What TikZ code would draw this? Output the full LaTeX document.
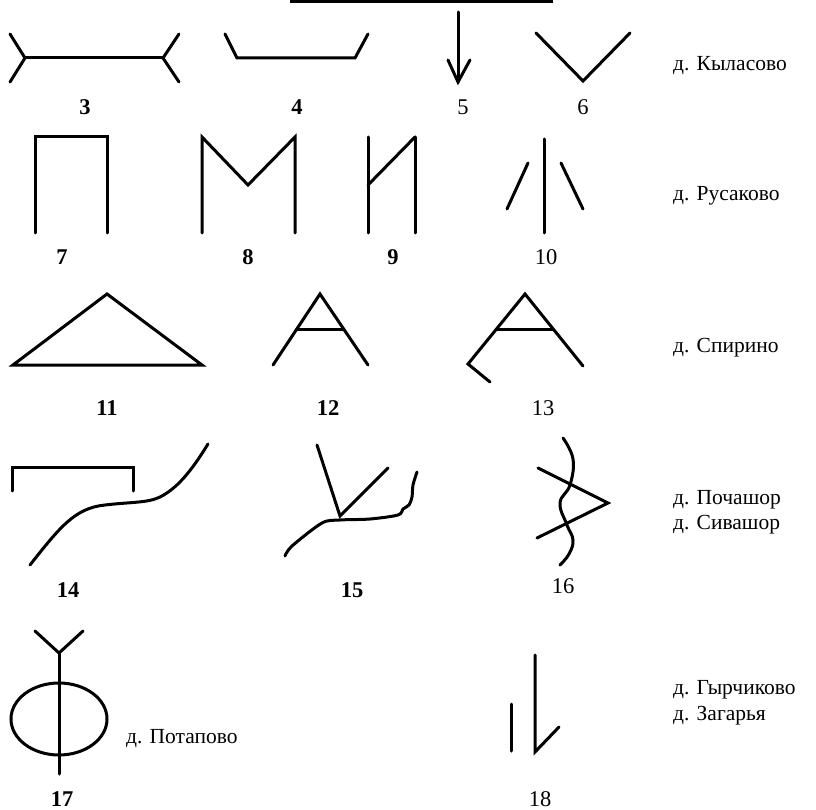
\documentclass[tikz,border=0pt]{standalone}
\usepackage{fontspec}
\setmainfont{Liberation Serif}
\begin{document}
\begin{tikzpicture}[x=1pt,y=-1pt,
  glyph/.style={line width=3pt,line cap=round,line join=miter},
  num/.style={anchor=base,font=\fontsize{22.5}{24}\selectfont\bfseries,inner sep=0pt},
  numr/.style={anchor=base,font=\fontsize{22.5}{24}\selectfont,inner sep=0pt},
  place/.style={anchor=base west,font=\fontsize{21.5}{24}\selectfont,inner sep=0pt}]
\useasboundingbox (0,0) rectangle (816,810);
% cut-off underlined heading at the top
\fill (290,0) rectangle (553,3.2);
% row 1
\draw[glyph] (10,34) -- (25,58) -- (10,82);
\draw[glyph] (25,58) -- (163,58);
\draw[glyph] (179,34) -- (163,58) -- (179,82);
\draw[glyph] (225,34) -- (237,58) -- (355,58) -- (368,34);
\draw[glyph] (458,12) -- (458,82);
\draw[glyph] (448,60) -- (458,82) -- (470,60);
\draw[glyph] (536,33) -- (583,81) -- (630,33);
\node[num] (n3) at (85,115) {3};
\node[num] (n4) at (297,115) {4};
\node[numr] (n5) at (463,115) {5};
\node[numr] (n6) at (583,115) {6};
\node[place] (t1) at (673,71) {д. Кыласово};
% row 2
\draw[glyph] (35,233) -- (35,137) -- (107,137) -- (107,233);
\draw[glyph] (202,233) -- (202,137) -- (248,185) -- (295,137) -- (295,233);
\draw[glyph] (368,137) -- (368,233);
\draw[glyph] (368,185) -- (415,137);
\draw[glyph] (415,137) -- (415,233);
\draw[glyph] (544,139) -- (544,233);
\draw[glyph] (528,163) -- (507,209);
\draw[glyph] (561,163) -- (583,209);
\node[num] (n7) at (62,265) {7};
\node[num] (n8) at (248,265) {8};
\node[num] (n9) at (393,265) {9};
\node[numr] (n10) at (546,265) {10};
\node[place] (t2) at (673,201) {д. Русаково};
% row 3
\draw[glyph] (107,294) -- (13,365) -- (202,365) -- cycle;
\draw[glyph] (273,365) -- (320,294) -- (368,365);
\draw[glyph] (296,329) -- (343,329);
\draw[glyph] (490,382) -- (468,364) -- (525,294) -- (583,366);
\draw[glyph] (497,329) -- (553,329);
\node[num] (n11) at (107,415) {11};
\node[num] (n12) at (328,415) {12};
\node[numr] (n13) at (543,415) {13};
\node[place] (t3) at (673,352) {д. Спирино};
% row 4
\draw[glyph] (12,491) -- (12,467) -- (133,467) -- (133,491);
\draw[glyph] (30,565) .. controls (60,527) and (75,508) .. (105,505)
  .. controls (130,502) and (148,503) .. (160,497)
  .. controls (180,487) and (195,465) .. (208,444);
\draw[glyph] (317,445) -- (340,516) -- (388,468);
\draw[glyph,line join=round] plot[smooth,tension=0.5] coordinates {(285,556) (292,546) (322,523) (340,520) (370,519) (398,515) (403,509) (409,505) (412,497) (413,485) (417,472)};
\draw[glyph] plot[smooth,tension=0.7] coordinates {(563,438) (573,459) (570,485) (560,503) (567,525) (573,540) (569,554) (560,565)};
\draw[glyph] (538,468) -- (608,503) -- (537,538);
\node[num] (n14) at (68,597) {14};
\node[num] (n15) at (352,597) {15};
\node[numr] (n16) at (563,593) {16};
\node[place] (t4) at (673,504) {д. Почашор};
\node[place] (t5) at (673,529) {д. Сивашор};
% row 5
\draw[glyph] (35,631) -- (59,653) -- (83,631);
\draw[glyph] (59,653) -- (59,774);
\draw[glyph] (59,719) ellipse [x radius=48,y radius=36];
\draw[glyph] (535,655) -- (535,752) -- (559,727);
\draw[glyph] (511,704) -- (511,751);
\node[num] (n17) at (62,806) {17};
\node[numr] (n18) at (540,806) {18};
\node[place] (t6) at (126,743) {д. Потапово};
\node[place] (t7) at (673,694) {д. Гырчиково};
\node[place] (t8) at (673,720) {д. Загарья};
\end{tikzpicture}
\end{document}
